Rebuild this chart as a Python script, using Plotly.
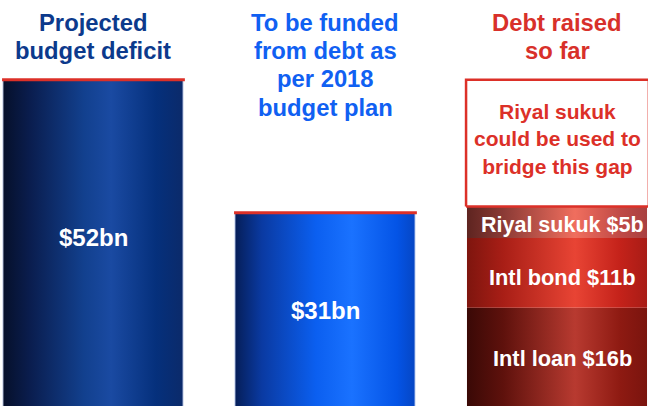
import plotly.graph_objects as go

# Column headings and values ($bn)
headings = [["Projected", "budget deficit"],
            ["To be funded", "from debt as", "per 2018", "budget plan"],
            ["Debt raised", "so far"]]
deficit_value = 52
funding_value = 31
debt_labels = ["Intl loan", "Intl bond", "Riyal sukuk"]
debt_values = [16, 11, 5]
gap_note = "Riyal sukuk<br>could be used to<br>bridge this gap"

heading_colors = ["#0c3a8c", "#1060f2", "#d8302a"]
red = "#dc3028"
font_family = "Arial, Liberation Sans, sans-serif"

BAR_W = 0.776
HALF = BAR_W / 2

# Horizontal shading for each cylinder-like column
navy_scale = [[0, "#06102a"], [0.15, "#0a1d4e"], [0.45, "#12408e"],
              [0.6, "#1a4aa2"], [0.85, "#05307c"], [1, "#0b2a6a"]]
blue_scale = [[0, "#061e58"], [0.15, "#0a3aa2"], [0.45, "#0b5ff0"],
              [0.65, "#1a72ff"], [0.9, "#0454e6"], [1, "#0546c4"]]
seg_scales = [
    [[0, "#3a0906"], [0.2, "#5e110c"], [0.6, "#b83a30"], [0.85, "#8e1a12"], [1, "#7a140e"]],
    [[0, "#7e150e"], [0.2, "#a81e16"], [0.6, "#e84434"], [0.85, "#c4221a"], [1, "#a81c16"]],
    [[0, "#5e2420"], [0.2, "#8a3a35"], [0.6, "#f06e5e"], [0.85, "#c04a46"], [1, "#a84040"]],
]


def column(xc, base, top, scale, edge=None):
    xs = [xc - HALF, xc + HALF, xc + HALF, xc - HALF, xc - HALF]
    ys = [base, base, top, top, base]
    return go.Scatter(
        x=xs, y=ys, mode="lines", fill="toself",
        fillgradient=dict(type="horizontal", colorscale=scale),
        line=dict(width=1 if edge else 0, color=edge or "rgba(0,0,0,0)"),
        hoverinfo="skip", showlegend=False,
    )


def top_line(xc, y):
    return go.Scatter(
        x=[xc - HALF - 0.004, xc + HALF + 0.008], y=[y, y], mode="lines",
        line=dict(color=red, width=3), hoverinfo="skip", showlegend=False,
    )


fig = go.Figure()

# Column 1 and 2
fig.add_trace(column(0, 0, deficit_value, navy_scale, edge="rgba(190,200,230,0.9)"))
fig.add_trace(top_line(0, deficit_value))
fig.add_trace(column(1, 0, funding_value, blue_scale, edge="rgba(190,205,240,0.9)"))
fig.add_trace(top_line(1, funding_value))

# Column 3: stacked debt components
base = 0
seg_mids = []
for val, scale in zip(debt_values, seg_scales):
    fig.add_trace(column(2, base, base + val, scale))
    seg_mids.append(base + val / 2)
    base += val
raised_total = base

# Gap box up to the projected deficit
fig.add_trace(go.Scatter(
    x=[2 - HALF - 0.004, 2 + HALF + 0.008, 2 + HALF + 0.008, 2 - HALF - 0.004, 2 - HALF - 0.004],
    y=[raised_total, raised_total, deficit_value, deficit_value, raised_total],
    mode="lines", fill="toself", fillcolor="white",
    line=dict(color=red, width=2.5), hoverinfo="skip", showlegend=False,
))

annotations = []
# Headings, one annotation per line for tighter leading
for i, (lines, col) in enumerate(zip(headings, heading_colors)):
    for k, line in enumerate(lines):
        center_px = 22 + k * 28.4
        annotations.append(dict(
            x=i, y=1 - center_px / 406, xref="x", yref="paper",
            text=f"<b>{line}</b>", showarrow=False, xanchor="center", yanchor="middle",
            font=dict(size=23.8, color=col, family=font_family),
        ))

# Value labels
annotations.append(dict(x=0, y=deficit_value / 2, text=f"<b>${deficit_value}bn</b>",
                        showarrow=False, yshift=7,
                        font=dict(size=24, color="white", family=font_family)))
annotations.append(dict(x=1, y=funding_value / 2, text=f"<b>${funding_value}bn</b>",
                        showarrow=False,
                        font=dict(size=24, color="white", family=font_family)))
seg_shifts = [0, -5, -3]
seg_sizes = [21.8, 21.8, 21.5]
for lab, val, mid, ys, sz in zip(debt_labels, debt_values, seg_mids, seg_shifts, seg_sizes):
    annotations.append(dict(x=2, y=mid, text=f"<b>{lab} ${val}b</b>", showarrow=False,
                            xshift=5, yshift=ys,
                            font=dict(size=sz, color="white", family=font_family)))

annotations.append(dict(x=2, y=(raised_total + deficit_value) / 2, text=f"<b>{gap_note}</b>",
                        showarrow=False, yshift=4,
                        font=dict(size=21, color=red, family=font_family)))

fig.update_layout(
    width=648, height=406,
    margin=dict(l=0, r=0, t=0, b=0),
    paper_bgcolor="white", plot_bgcolor="white",
    xaxis=dict(range=[-93 / 232, 555 / 232], visible=False, fixedrange=True),
    yaxis=dict(range=[3 / 6.33, 409 / 6.33], visible=False, fixedrange=True),
    annotations=annotations,
    showlegend=False,
)

fig.write_html("out.html")
